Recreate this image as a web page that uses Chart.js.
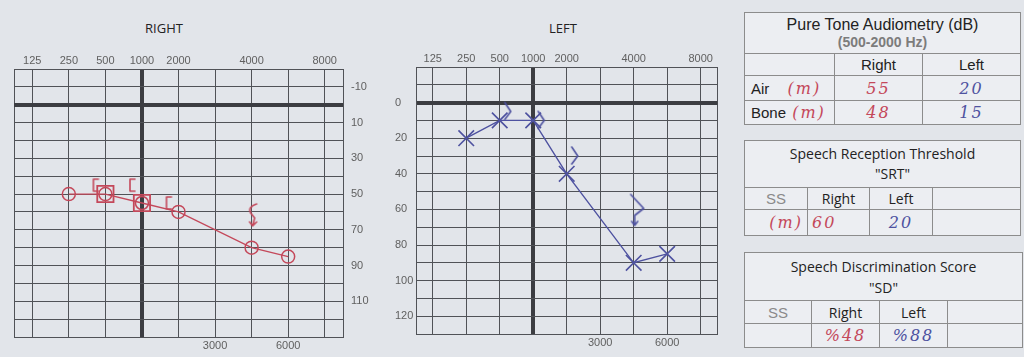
<!DOCTYPE html>
<html><head><meta charset="utf-8">
<script src="https://cdn.jsdelivr.net/npm/chart.js@4"></script>
<style>
html,body{margin:0;padding:0;}
body{width:1024px;height:357px;background:#e2e5ea;position:relative;overflow:hidden;font-family:"Liberation Sans",Arial,sans-serif;color:#222;}
.ttl{position:absolute;top:19px;font-family:"Open Sans",sans-serif;font-size:13px;color:#222;transform:translateX(-50%);}
#cR{position:absolute;left:0;top:0;}
#cL{position:absolute;left:380px;top:0;}
table{position:absolute;border-collapse:collapse;table-layout:fixed;background:#eceef2;}
td{border:1px solid #8c8c8c;padding:0;text-align:center;vertical-align:middle;white-space:nowrap;overflow:visible;font-size:15px;line-height:17px;}
.os{font-family:"Open Sans",sans-serif;font-size:14px;}
.ss{color:#8a8a8a;font-size:15px;}
.hw{font-family:"DejaVu Serif",serif;font-style:italic;font-size:16px;letter-spacing:2px;}
.red{color:#c4485a}.blue{color:#4e52a0}
</style></head>
<body>
<div class="ttl" style="left:164px">RIGHT</div>
<div class="ttl" style="left:563px">LEFT</div>
<canvas id="cR" width="380" height="357"></canvas>
<canvas id="cL" width="350" height="357"></canvas>

<table style="left:744px;top:12px;width:276px">
<colgroup><col style="width:90px"><col style="width:88px"><col style="width:98px"></colgroup>
<tr style="height:41px"><td colspan="3"><div style="font-size:16px;line-height:19px">Pure Tone Audiometry (dB)</div><div style="font-size:14px;font-weight:bold;color:#7c7c7c;line-height:17px">(500-2000 Hz)</div></td></tr>
<tr style="height:22px"><td></td><td>Right</td><td>Left</td></tr>
<tr style="height:25px"><td style="text-align:left;padding-left:6px">Air <span class="hw red" style="margin-left:14px">(m)</span></td><td class="hw red">55</td><td class="hw blue">20</td></tr>
<tr style="height:24px"><td style="text-align:left;padding-left:6px">Bone <span class="hw red" style="margin-left:2px">(m)</span></td><td class="hw red">48</td><td class="hw blue">15</td></tr>
</table>

<table style="left:744px;top:140px;width:276px">
<colgroup><col style="width:63px"><col style="width:62px"><col style="width:63px"><col style="width:88px"></colgroup>
<tr style="height:47px"><td colspan="4" class="os" style="line-height:20px">Speech Reception Threshold<br><span style="margin-left:20px">"SRT"</span></td></tr>
<tr style="height:22px"><td class="ss">SS</td><td class="os">Right</td><td class="os">Left</td><td></td></tr>
<tr style="height:26px"><td class="hw red" style="text-align:right;padding-right:4px">(m)</td><td class="hw red" style="text-align:left;padding-left:4px">60</td><td class="hw blue">20</td><td></td></tr>
</table>

<table style="left:744px;top:252px;width:278px">
<colgroup><col style="width:67px"><col style="width:68px"><col style="width:68px"><col style="width:75px"></colgroup>
<tr style="height:48px"><td colspan="4" class="os" style="line-height:21px">Speech Discrimination Score<br>"SD"</td></tr>
<tr style="height:23px"><td class="ss">SS</td><td class="os">Right</td><td class="os">Left</td><td></td></tr>
<tr style="height:24px"><td></td><td class="hw red">%48</td><td class="hw blue">%88</td><td></td></tr>
</table>

<script>
// ---- data ----
const FREQS = ['125','250','500','1000','2000','3000','4000','6000','8000'];
const TOP_FREQ_LABELS = ['125','250','500','1000','2000','','4000','','8000'];
const BOTTOM_FREQ_LABELS = ['','','','','','3000','','6000',''];
const RIGHT_DB_LABELS = [-10,10,30,50,70,90,110];
const LEFT_DB_LABELS = [0,20,40,60,80,100,120];
const DB_MIN = -20, DB_MAX = 130, DB_STEP = 10;

const RIGHT_AIR        = [null,50,50,55,60,null,80,85,null];
const RIGHT_AIR_MASKED = [null,null,50,55,null,null,null,null,null];
const RIGHT_BONE       = [null,null,45,45,55,null,null,null,null];
const RIGHT_BONE_NR    = [null,null,null,null,null,null,60,null,null];

const LEFT_AIR         = [null,20,10,10,40,null,90,85,null];
const LEFT_BONE        = [null,null,5,10,30,null,null,null,null];
const LEFT_BONE_NR     = [null,null,null,null,null,null,60,null,null];

// ---- styling ----
const RED = '#c4485a', BLUE = '#4e52a0';
const GRID = '#505257', THICK = '#3c3d42';
const TICK_FONT = {family:'"Liberation Sans", Arial, sans-serif', size:11};
const TICK_COLOR = '#606060';

const pts = arr => arr.map((v,i)=> v==null?null:{x:i,y:v}).filter(Boolean);

function symbol(w,h,color,lw,draw){
  const c=document.createElement('canvas'); c.width=w; c.height=h;
  const g=c.getContext('2d'); g.strokeStyle=color; g.lineWidth=lw; g.lineCap='round'; g.lineJoin='round';
  g.beginPath(); draw(g); g.stroke(); return c;
}
const bracketR = symbol(40,24,RED,1.6,g=>{g.moveTo(13,6);g.lineTo(8,6);g.lineTo(8,18);g.lineTo(13,18);});
const nrR = symbol(40,40,RED,1.6,g=>{g.moveTo(25,12);g.quadraticCurveTo(16,15,19,21);g.lineTo(23,26);g.lineTo(21,34);g.moveTo(18,30);g.lineTo(21,34);g.lineTo(25,30);});
const boneL = symbol(40,40,BLUE,1.6,g=>{g.moveTo(25,11);g.lineTo(31,20);g.lineTo(25,28);});
const nrL = symbol(40,40,BLUE,1.6,g=>{g.moveTo(17,5);g.lineTo(30,19);g.lineTo(21,26);g.lineTo(21,36);g.moveTo(18,32);g.lineTo(21,36);g.lineTo(24,32);});

const xTickVals = [-0.5].concat(FREQS.map((f,i)=>i)).concat([FREQS.length-0.5]);
const yTickVals = []; for(let v=DB_MIN; v<=DB_MAX; v+=DB_STEP) yTickVals.push(v);

function xScale(pos, labels, size, pad, showGrid){
  return {
    type:'linear', position:pos, min:-0.5, max:FREQS.length-0.5,
    afterBuildTicks: s => { s.ticks = xTickVals.map(v=>({value:v})); },
    afterFit: s => { s.height = size; },
    ticks:{ autoSkip:false, maxRotation:0, padding:pad, font:TICK_FONT, color:TICK_COLOR,
      callback: v => Number.isInteger(v) ? labels[v] : '' },
    grid:{ display:showGrid, drawTicks:false, color: c => c.tick && c.tick.value===3 ? THICK : GRID,
      lineWidth: c => c.tick && c.tick.value===3 ? 4 : 1 },
    border:{ display:true, color:GRID, width:1 }
  };
}
function yScale(pos, labels, width, pad, crossAlign){
  return {
    type:'linear', position:pos, reverse:true, min:DB_MIN, max:DB_MAX,
    afterBuildTicks: s => { s.ticks = yTickVals.map(v=>({value:v})); },
    afterFit: s => { s.width = width; },
    ticks:{ autoSkip:false, padding:pad, font:TICK_FONT, color:TICK_COLOR, crossAlign:crossAlign,
      callback: v => labels.includes(v) ? String(v) : '' },
    grid:{ drawTicks:false, color: c => c.tick && c.tick.value===0 ? THICK : GRID,
      lineWidth: c => c.tick && c.tick.value===0 ? 4 : 1 },
    border:{ display:true, color:GRID, width:1 }
  };
}
const common = {
  responsive:false, animation:false,
  plugins:{legend:{display:false}, tooltip:{enabled:false}, title:{display:false}},
  elements:{line:{tension:0}},
};

new Chart(document.getElementById('cR'), {
  type:'line',
  data:{ datasets:[
    {data:pts(RIGHT_AIR), borderColor:RED, borderWidth:1.3, pointStyle:'circle', pointRadius:6.5,
     pointBorderWidth:1.5, pointBorderColor:RED, pointBackgroundColor:'rgba(0,0,0,0)'},
    {data:pts(RIGHT_AIR_MASKED), showLine:false, pointStyle:'rect', pointRadius:11.5, pointBorderWidth:1.8,
     pointBorderColor:RED, pointBackgroundColor:'rgba(0,0,0,0)'},
    {data:pts(RIGHT_BONE), showLine:false, pointStyle:bracketR, pointRadius:10},
    {data:pts(RIGHT_BONE_NR), showLine:false, pointStyle:nrR, pointRadius:10}
  ]},
  options:Object.assign({}, common, {
    layout:{padding:{left:14,right:0,top:0,bottom:0}},
    scales:{
      x: xScale('bottom', BOTTOM_FREQ_LABELS, 20, 2, true),
      xTop: xScale('top', TOP_FREQ_LABELS, 69, 1, false),
      y: yScale('right', RIGHT_DB_LABELS, 37, 8, 'near')
    }
  })
});

new Chart(document.getElementById('cL'), {
  type:'line',
  data:{ datasets:[
    {data:pts(LEFT_AIR), borderColor:BLUE, borderWidth:1.4, pointStyle:'crossRot', pointRadius:11,
     pointBorderWidth:1.6, pointBorderColor:BLUE},
    {data:pts(LEFT_BONE), showLine:false, pointStyle:boneL, pointRadius:10},
    {data:pts(LEFT_BONE_NR), showLine:false, pointStyle:nrL, pointRadius:10}
  ]},
  options:Object.assign({}, common, {
    layout:{padding:{left:15,right:10,top:0,bottom:0}},
    scales:{
      x: xScale('bottom', BOTTOM_FREQ_LABELS, 23, 2, true),
      xTop: xScale('top', TOP_FREQ_LABELS, 67, 1, false),
      y: yScale('left', LEFT_DB_LABELS, 21, 3, 'far')
    }
  })
});
</script>
</body></html>
